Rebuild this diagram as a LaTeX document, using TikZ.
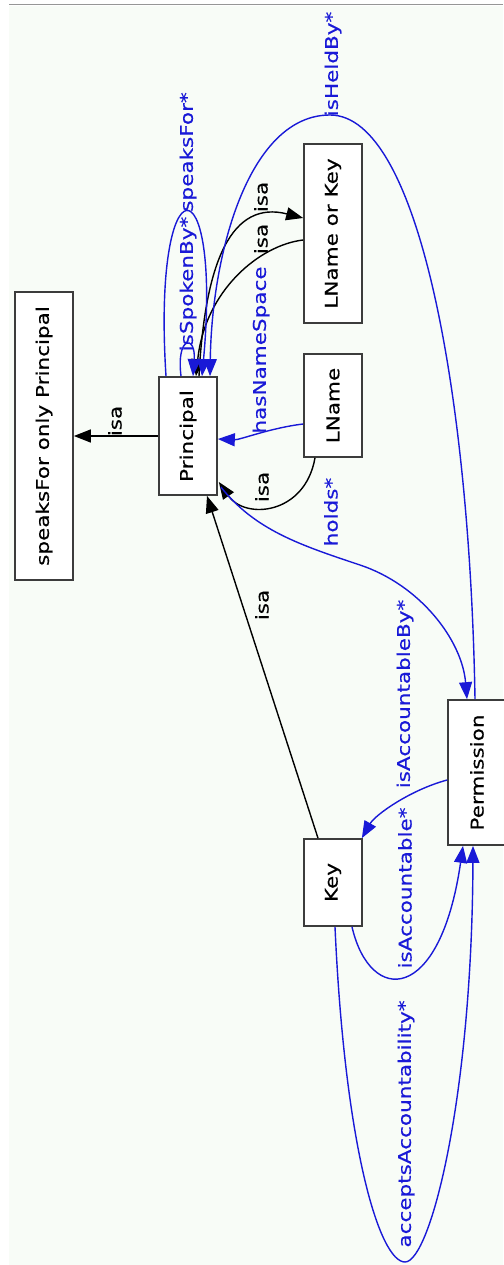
\documentclass[tikz,border=0pt]{standalone}
\usepackage{fontspec}
\setmainfont{DejaVu Sans}
\newfontfamily\gvfont{DejaVu Sans}[FakeBold=0.4]
\usepackage{graphicx}
\usetikzlibrary{arrows.meta,calc}
\definecolor{edgeblue}{RGB}{25,25,215}
\definecolor{paper}{RGB}{248,252,247}
\definecolor{boxline}{RGB}{60,60,60}
\definecolor{frameline}{RGB}{150,150,150}
% labels are set slightly stretched along the text direction
\newcommand\gvtext[1]{\scalebox{1.23}[1]{#1}}
\tikzset{
  classbox/.style={draw=boxline, line width=1.7pt, fill=white, inner sep=0pt,
    font=\gvfont\fontsize{17.5}{20}\selectfont},
  isaedge/.style={draw=black, line width=1.4pt, -{Triangle[length=17pt,width=13pt]}},
  reledge/.style={draw=edgeblue, line width=1.4pt, -{Triangle[length=17pt,width=13pt]}},
  isalabel/.style={rotate=90, inner sep=0pt, font=\gvfont\fontsize{17.5}{20}\selectfont, text=black},
  rellabel/.style={isalabel, text=edgeblue},
}
\begin{document}
\begin{tikzpicture}[x=1pt,y=-1pt]
\useasboundingbox (0,0) rectangle (503,1265);
% page background and top rule
\fill[paper] (9,6) rectangle (503,1265);
\draw[frameline, line width=1pt] (9,5) -- (503,5);

% classes
\node[classbox, minimum width=58pt, minimum height=288pt] (SF) at (44,436)
  {\rotatebox{90}{\gvtext{speaksFor only Principal}}};
\node[classbox, minimum width=58pt, minimum height=118pt] (P) at (188,436)
  {\rotatebox{90}{\gvtext{Principal}}};
\node[classbox, minimum width=58pt, minimum height=179pt] (LK) at (333,233.5)
  {\rotatebox{90}{\gvtext{LName or Key}}};
\node[classbox, minimum width=58pt, minimum height=103pt] (LN) at (333,405.5)
  {\rotatebox{90}{\gvtext{LName}}};
\node[classbox, minimum width=58pt, minimum height=87pt] (K) at (333,882.5)
  {\rotatebox{90}{\gvtext{Key}}};
\node[classbox, minimum width=58pt, minimum height=145pt] (PM) at (477,772.5)
  {\rotatebox{90}{\gvtext{Permission}}};

% subclass links
\draw[isaedge] (P.west) -- (SF.east);
\draw[isaedge] ($(LN.south)+(-18,0)$) .. controls (305,515) and (245,520) .. ($(P.east)+(1,46)$);
\draw[isaedge] ($(P.north)+(11,0)$) .. controls (205,260) and (232,200) .. ($(LK.west)+(0,-15.5)$);
\draw[isaedge] ($(LK.west)+(0,6.5)$) .. controls (260,245) and (205,290) .. ($(P.north)+(8,0)$);
\draw[isaedge] ($(K.north)+(-15,0)$) -- ($(P.south)+(19,0)$);

% object properties
\draw[reledge] ($(LN.west)+(0,18.5)$) .. controls (270,428) and (240,440) .. ($(P.east)+(0,3)$);
\draw[reledge] ($(P.north)+(-7,0)$) .. controls (176,335) and (196,335) .. ($(P.north)+(5,0)$);
\draw[reledge] ($(P.north)+(-22,0)$) .. controls (152,158) and (222,158) .. ($(P.north)+(14,0)$);
\draw[reledge] ($(P.east)+(3,51)$) .. controls (255,530) and (300,545) .. (360,565)
  .. controls (420,585) and (462,640) .. ($(PM.north)+(-10,0)$);
\coordinate (heldtop) at (330,115);
\draw[reledge] ($(PM.north)+(-2,0)$) .. controls (470,400) and (420,115) .. (heldtop)
  .. controls (250,115) and (212,250) .. ($(P.north)+(22,0)$);
\draw[reledge] ($(PM.west)+(0,7.5)$) .. controls (410,790) and (375,815) .. ($(K.north east)+(-1,0)$);
\draw[reledge] ($(K.south)+(19,0)$) .. controls (370,1005) and (440,1005) .. ($(PM.south)+(-14,0)$);
\coordinate (acctbottom) at (405,1262);
\draw[reledge] ($(K.south)+(2,0)$) .. controls (345,1150) and (380,1262) .. (acctbottom)
  .. controls (430,1262) and (472,1100) .. ($(PM.south)+(-4,0)$);

% edge labels
\node[isalabel] (isaSF) at (115,421) {\gvtext{isa}};
\node[isalabel] (isaLN) at (262,487) {\gvtext{isa}};
\node[isalabel] (isaToLK) at (261,197) {\gvtext{isa}};
\node[isalabel] (isaFromLK) at (261,239) {\gvtext{isa}};
\node[isalabel] (isaK) at (262,605) {\gvtext{isa}};
\node[rellabel] (hasNS) at (261,350) {\gvtext{hasNameSpace}};
\node[rellabel] (spokenBy) at (188,284) {\gvtext{isSpokenBy*}};
\node[rellabel] (speaksFor) at (188,152) {\gvtext{speaksFor*}};
\node[rellabel] (holds) at (331,512) {\gvtext{holds*}};
\node[rellabel] (heldBy) at (333,64) {\gvtext{isHeldBy*}};
\node[rellabel] (accBy) at (405,694) {\gvtext{isAccountableBy*}};
\node[rellabel] (acc) at (405,888) {\gvtext{isAccountable*}};
\node[rellabel] (accepts) at (406,1124) {\gvtext{acceptsAccountability*}};
\end{tikzpicture}
\end{document}
